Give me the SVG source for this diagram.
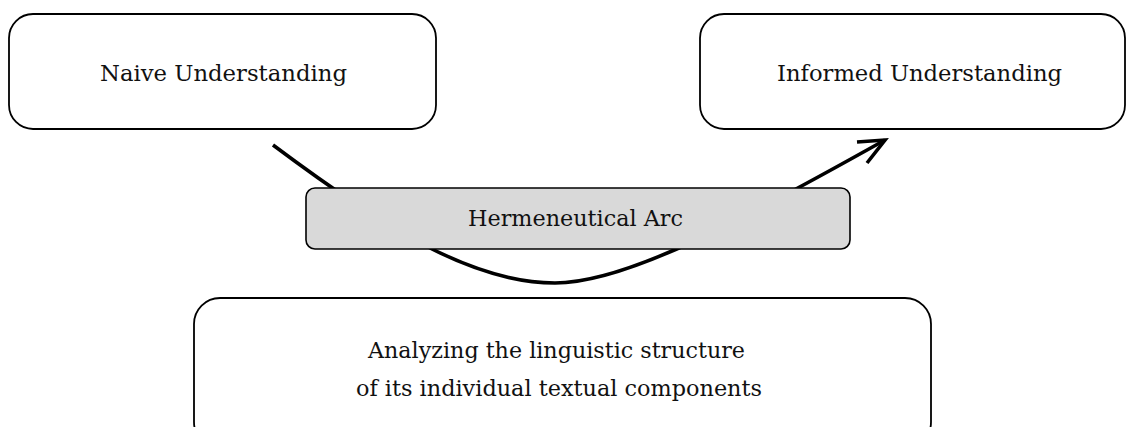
<svg xmlns="http://www.w3.org/2000/svg" width="1126" height="427" viewBox="0 0 1126 427">
<style>
.box{fill:#fff;stroke:#000;stroke-width:1.8}
.gbox{fill:#d9d9d9;stroke:#000;stroke-width:1.6}
.t{font-family:"DejaVu Serif","Liberation Serif",serif;font-size:22.5px;fill:#111;text-anchor:middle}
.c{fill:none;stroke:#000;stroke-width:3.6;stroke-linecap:butt;stroke-linejoin:miter}
</style>
<g id="connectors">
<path class="c" d="M273,145 C380,225 470,283 555,283 C625,283 735,224 885,140"/>
<path class="c" d="M857,142 L885,140 L867,163"/>
</g>
<g id="naive">
<rect class="box" x="9" y="14" width="427" height="115" rx="24"/>
<text class="t" x="223.5" y="81" textLength="247" lengthAdjust="spacingAndGlyphs">Naive Understanding</text>
</g>
<g id="informed">
<rect class="box" x="700" y="14" width="425" height="115" rx="24"/>
<text class="t" x="919.5" y="81" textLength="285" lengthAdjust="spacingAndGlyphs">Informed Understanding</text>
</g>
<g id="arc">
<rect class="gbox" x="306" y="188" width="544" height="61" rx="9"/>
<text class="t" x="575.5" y="226" textLength="215" lengthAdjust="spacingAndGlyphs">Hermeneutical Arc</text>
</g>
<g id="analyzing">
<rect class="box" x="194" y="298" width="737" height="150" rx="26"/>
<text class="t" x="556.5" y="358" textLength="377" lengthAdjust="spacingAndGlyphs">Analyzing the linguistic structure</text>
<text class="t" x="559" y="396" textLength="406" lengthAdjust="spacingAndGlyphs">of its individual textual components</text>
</g>
</svg>
